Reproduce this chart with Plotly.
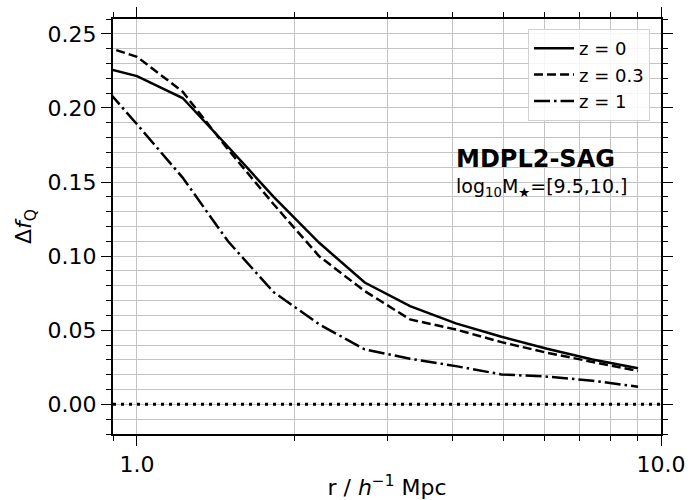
import plotly.graph_objects as go

# Radial bins (h^-1 Mpc), log-spaced
r_bins = [0.819, 1.0, 1.222, 1.492, 1.823, 2.227, 2.72, 3.32, 4.06, 4.96, 6.06, 7.40, 9.04]

# Quenched-fraction excess for each redshift
dfq_z0 = [0.2293, 0.2215, 0.2067, 0.1738, 0.1400, 0.1090, 0.0822, 0.0663,
          0.0546, 0.0456, 0.0375, 0.0303, 0.0243]
dfq_z03 = [0.2444, 0.2345, 0.2110, 0.1720, 0.1350, 0.0999, 0.0764, 0.0573,
           0.0505, 0.0420, 0.0348, 0.0285, 0.0225]
dfq_z1 = [0.2239, 0.1890, 0.1530, 0.1100, 0.0757, 0.0540, 0.0371, 0.0308,
          0.0258, 0.0202, 0.0187, 0.0160, 0.0119]

series = [
    ("z = 0", dfq_z0, "solid"),
    ("z = 0.3", dfq_z03, "9px,4px"),
    ("z = 1", dfq_z1, "16px,4px,2.5px,4px"),
]

x_major = [1, 10]
x_major_text = ["1.0", "10.0"]
x_minor = [0.9, 2, 3, 4, 5, 6, 7, 8, 9]
y_major = [0.0, 0.05, 0.10, 0.15, 0.20, 0.25]

FONT = "DejaVu Sans"
GRID = "#c4c4c4"

fig = go.Figure()
for name, vals, dash in series:
    fig.add_trace(go.Scatter(
        x=r_bins, y=vals, mode="lines", name=name,
        line=dict(color="black", width=2.5, dash=dash),
    ))

# zero reference
fig.add_shape(type="line", xref="paper", yref="y", x0=0, x1=1, y0=0, y1=0,
              line=dict(color="black", width=3, dash="3px,5px"), layer="above")

fig.update_xaxes(
    type="log", range=[-0.04576, 1.0], automargin=False,
    tickmode="array", tickvals=x_major, ticktext=x_major_text,
    ticks="outside", ticklen=10, tickwidth=1.3, tickcolor="black",
    showline=True, linecolor="black", linewidth=2, mirror="ticks",
    showgrid=True, gridcolor=GRID, gridwidth=1, zeroline=False,
    minor=dict(tickmode="array", tickvals=x_minor, ticks="outside", ticklen=5,
               tickwidth=1.2, tickcolor="black", showgrid=True,
               gridcolor=GRID, gridwidth=1),
    tickfont=dict(family=FONT, size=22, color="black"),
    title=dict(text="r / <i>h</i><sup>−1</sup> Mpc",
               font=dict(family=FONT, size=22, color="black"), standoff=8),
)
fig.update_yaxes(
    range=[-0.02, 0.26], automargin=False,
    tickmode="array", tickvals=y_major, tickformat=".2f",
    ticks="outside", ticklen=10, tickwidth=1.3, tickcolor="black",
    showline=True, linecolor="black", linewidth=2, mirror="ticks",
    showgrid=True, gridcolor=GRID, gridwidth=1, zeroline=False,
    minor=dict(dtick=0.01, tick0=0, ticks="outside", ticklen=5, tickwidth=1.2,
               tickcolor="black", showgrid=True, gridcolor=GRID, gridwidth=1),
    tickfont=dict(family=FONT, size=22, color="black"),
    title=dict(text="Δ<i>f</i><sub>Q</sub>",
               font=dict(family=FONT, size=22, color="black"), standoff=10),
)

fig.add_annotation(text="<b>MDPL2-SAG</b>", xref="paper", yref="paper",
                   x=0.6226, y=0.663, xanchor="left", yanchor="middle",
                   showarrow=False, font=dict(family=FONT, size=24, color="black"))
fig.add_annotation(text="log<sub>10</sub>M<sub>★</sub>=[9.5,10.]", xref="paper", yref="paper",
                   x=0.6226, y=0.593, xanchor="left", yanchor="middle",
                   showarrow=False, font=dict(family=FONT, size=19, color="black"))

fig.update_layout(
    width=693, height=500,
    margin=dict(l=113, r=32, t=19, b=66),
    plot_bgcolor="white", paper_bgcolor="white",
    legend=dict(x=0.98, y=0.976, xanchor="right", yanchor="top",
                bgcolor="rgba(255,255,255,0.85)", bordercolor="#d0d0d0", borderwidth=1,
                font=dict(family=FONT, size=18, color="black"),
                tracegroupgap=0, itemwidth=40),
    showlegend=True,
)

fig.write_html("out.html")
